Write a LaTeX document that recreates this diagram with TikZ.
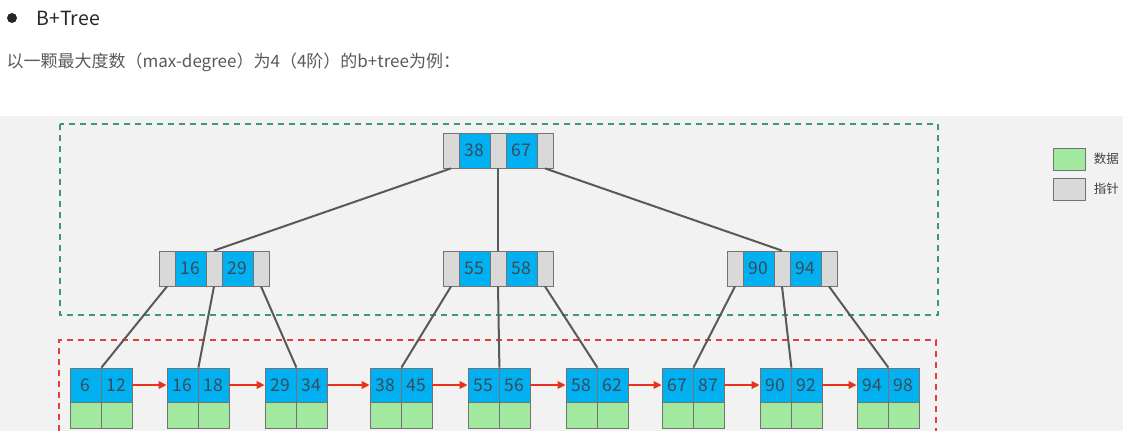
\documentclass[tikz,border=0pt]{standalone}
\usepackage{fontspec}
\setmainfont{Noto Sans CJK SC}
\usetikzlibrary{arrows.meta}
\definecolor{keyblue}{HTML}{00B0F0}
\definecolor{ptrgray}{HTML}{D9D9D9}
\definecolor{datagreen}{HTML}{A3E89F}
\definecolor{bggray}{HTML}{F2F2F2}
\definecolor{numtext}{HTML}{3B4B5B}
\definecolor{boxgreen}{HTML}{3A9B6E}
\definecolor{boxred}{HTML}{E0403A}
\definecolor{linkred}{HTML}{E8321E}
\definecolor{edgegray}{HTML}{595959}

\begin{document}
\begin{tikzpicture}[x=1pt,y=-1pt,
    cell/.style={draw=black!55, line width=0.8pt, inner sep=0pt, minimum height=35pt},
    keycell/.style={cell, fill=keyblue, minimum width=31pt, text=numtext, font=\fontsize{17.5}{17.5}\selectfont},
    ptrcell/.style={cell, fill=ptrgray, minimum width=16pt},
    datacell/.style={cell, fill=datagreen, minimum width=31pt, minimum height=26pt},
    treeedge/.style={edgegray, line width=2pt},
    leaflink/.style={linkred, line width=1.8pt, -{Triangle[length=8pt,width=7.5pt]}},
    groupbox/.style={line width=1.4pt, dash pattern=on 6pt off 5pt}]
    \useasboundingbox (0,0) rectangle (1123,431);
    \fill[bggray] (0,116) rectangle (1123,431);
    % heading
    \node[circle, fill=black!85, minimum size=10pt, inner sep=0pt] (bullet) at (12,18) {};
    \node[anchor=west, text=black!85, font=\fontsize{19.5}{19.5}\selectfont] (title) at (33,18) {B+Tree};
    \node[anchor=west, text=black!65, font=\fontsize{17}{17}\selectfont] (subtitle) at (3,62) {以一颗最大度数（max-degree）为4（4阶）的b+tree为例：};
    % index part and data part
    \draw[groupbox, boxgreen] (60,124) rectangle (938,315);
    \draw[groupbox, boxred] (59,431) -- (59,340) -- (936,340) -- (936,431);
    % inner nodes
    \foreach \name/\L/\y/\ka/\kb in {root/443/150.5/38/67, n1/159/268.5/16/29, n2/443/268.5/55/58, n3/727/268.5/90/94}{
      \node[ptrcell] (\name-p1) at (\L+8,\y) {};
      \node[keycell] (\name-k1) at (\L+31.5,\y) {\ka};
      \node[ptrcell] (\name-p2) at (\L+55,\y) {};
      \node[keycell] (\name-k2) at (\L+78.5,\y) {\kb};
      \node[ptrcell] (\name-p3) at (\L+102,\y) {};
    }
    % leaves
    \foreach \L/\ka/\kb [count=\i] in {70/6/12, 167/16/18, 265/29/34, 370/38/45, 468/55/56, 566/58/62, 662/67/87, 760/90/92, 857/94/98}{
      \node[keycell, minimum height=34pt] (leaf\i-a) at (\L+15.5,385) {\ka};
      \node[keycell, minimum height=34pt] (leaf\i-b) at (\L+46.5,385) {\kb};
      \node[datacell] (data\i-a) at (\L+15.5,415) {};
      \node[datacell] (data\i-b) at (\L+46.5,415) {};
    }
    \foreach \n in {1,2,3}{\draw[treeedge] (root-p\n.south) -- (n\n-p2.north);}
    \foreach \n/\a/\b/\c in {1/1/2/3, 2/4/5/6, 3/7/8/9}{
      \draw[treeedge] (n\n-p1.south) -- (leaf\a-a.north east);
      \draw[treeedge] (n\n-p2.south) -- (leaf\b-a.north east);
      \draw[treeedge] (n\n-p3.south) -- (leaf\c-a.north east);
    }
    \foreach \i [evaluate=\i as \j using int(\i+1)] in {1,...,8}{\draw[leaflink] (leaf\i-b.east) -- (leaf\j-a.west);}
    % legend
    \node[datacell, minimum width=32pt, minimum height=22pt] (legdata) at (1069,159) {};
    \node[ptrcell, minimum width=32pt, minimum height=22pt] (legptr) at (1069,189) {};
    \node[anchor=west, text=black!75, font=\fontsize{12.5}{12.5}\selectfont] (legdatatext) at ([xshift=5pt]legdata.east) {数据};
    \node[anchor=west, text=black!75, font=\fontsize{12.5}{12.5}\selectfont] (legptrtext) at ([xshift=5pt]legptr.east) {指针};
\end{tikzpicture}
\end{document}
